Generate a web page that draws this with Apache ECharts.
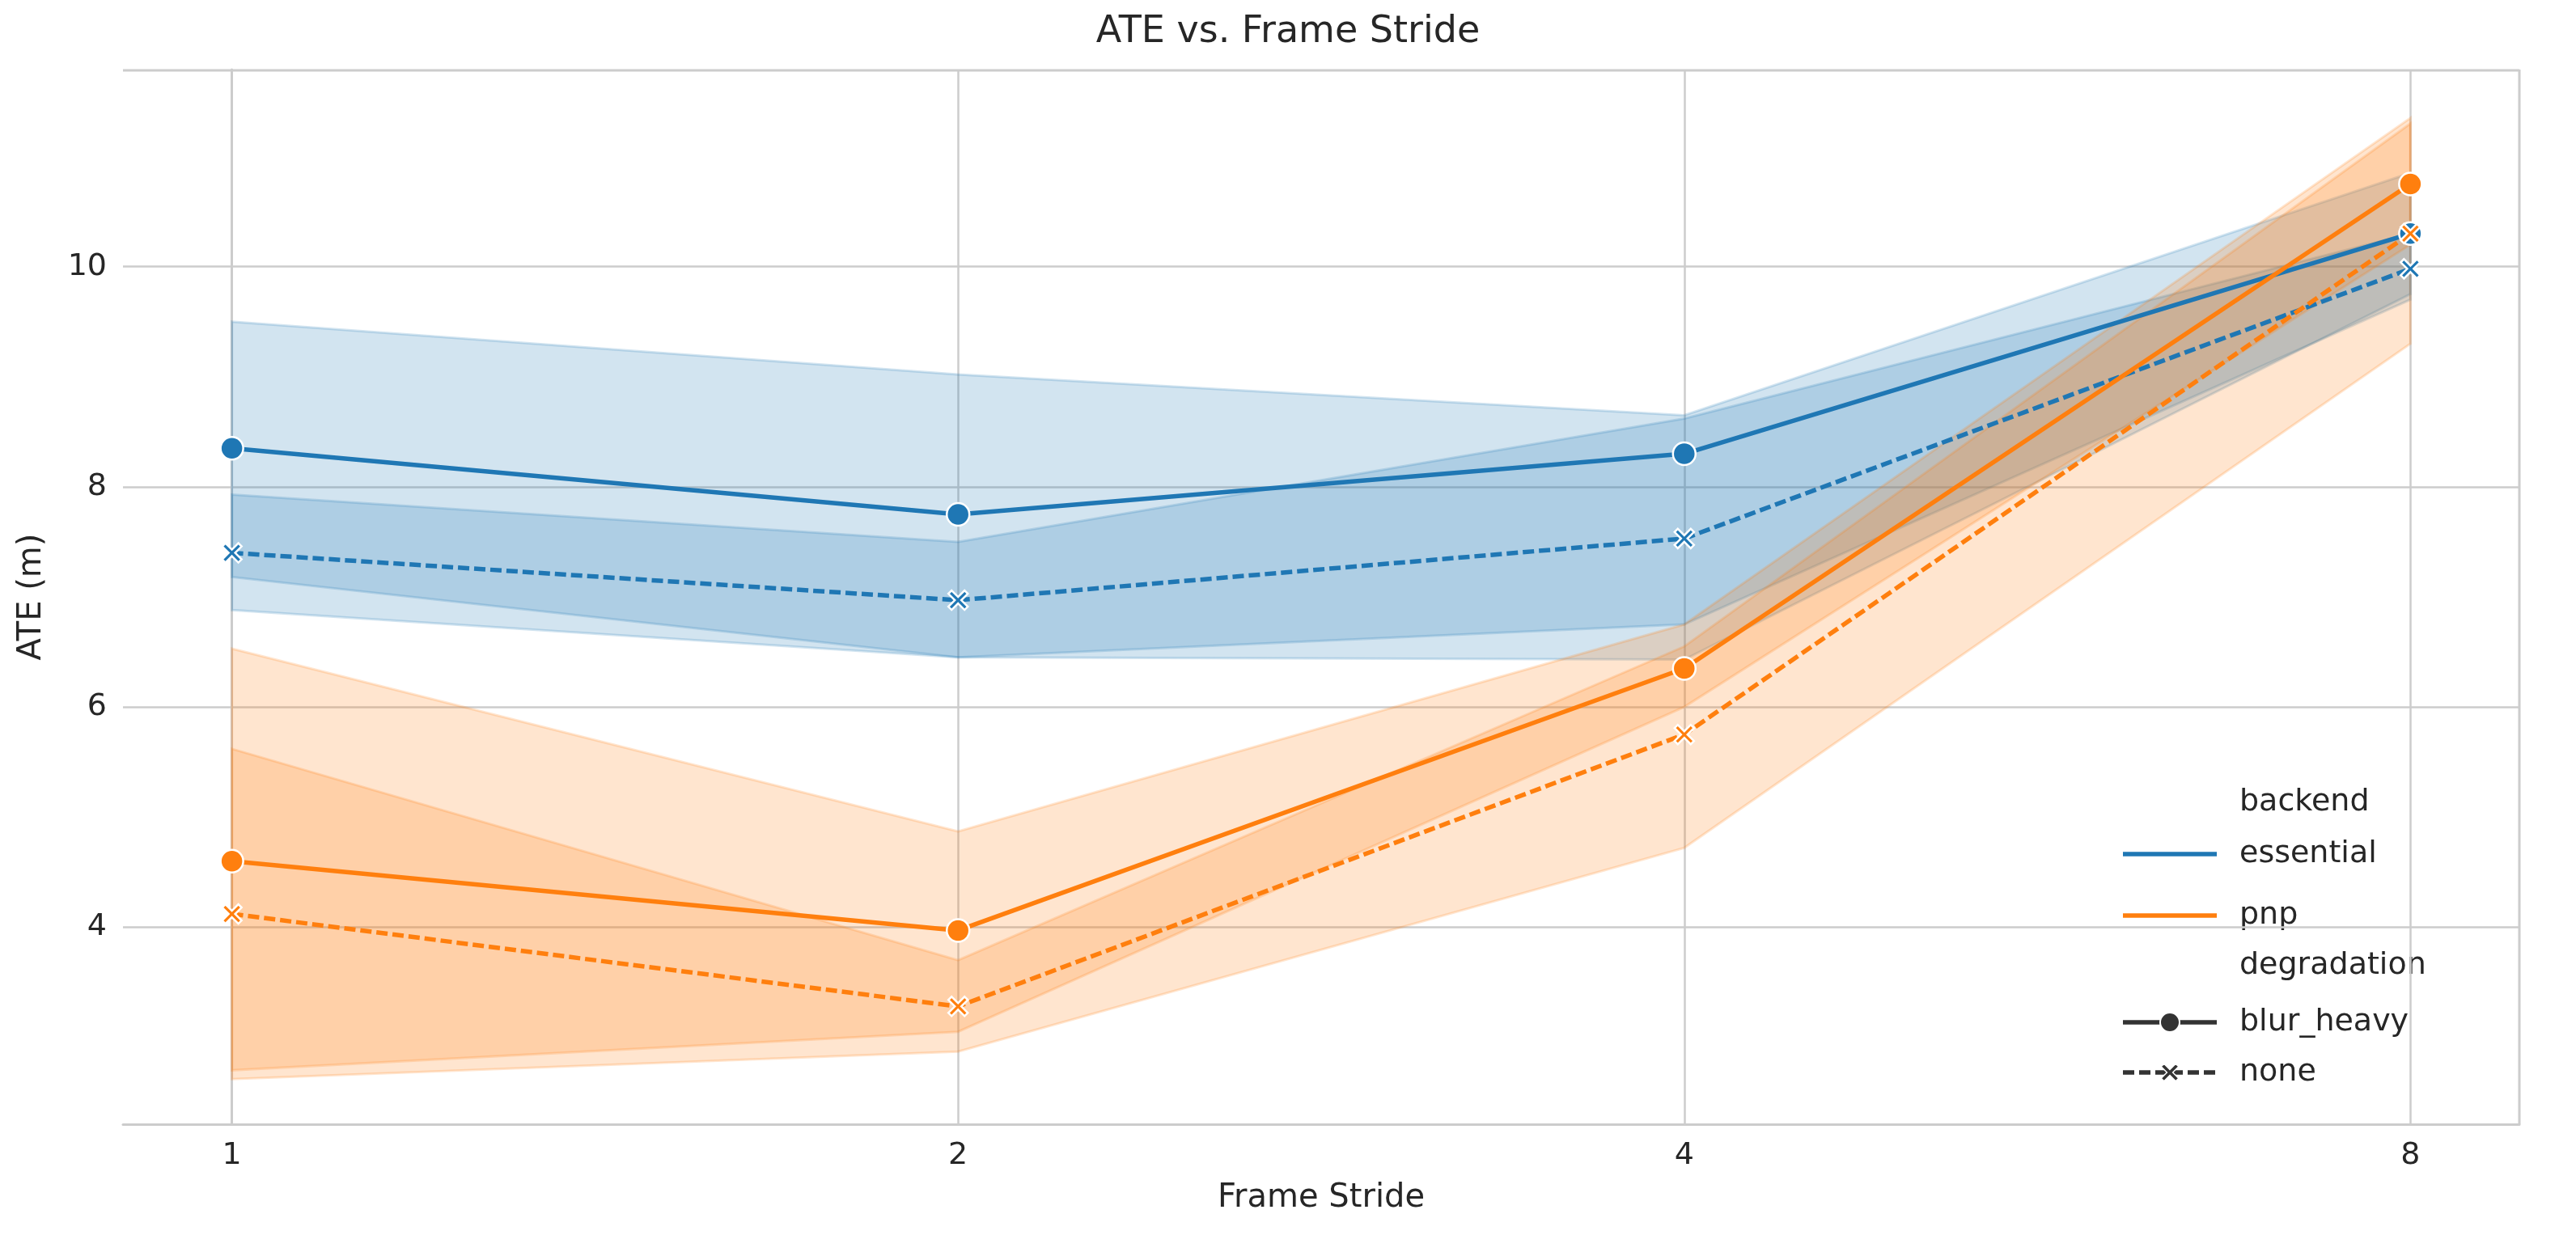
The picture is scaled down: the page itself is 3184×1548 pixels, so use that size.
<!DOCTYPE html>
<html>
<head>
<meta charset="utf-8">
<script src="https://cdn.jsdelivr.net/npm/echarts@6/dist/echarts.min.js"></script>
<style>html,body{margin:0;background:#fff}#main{width:3184px;height:1548px}</style>
</head>
<body>
<div id="main"></div>
<script>
// strides shown on a log2 scale, x = log2(stride)
var strides = [1, 2, 4, 8];
var ess_blur = [8.35, 7.75, 8.30, 10.30];
var ess_blur_lo = [6.88, 6.45, 6.43, 9.75];
var ess_blur_hi = [9.50, 9.02, 8.65, 10.85];
var ess_none = [7.40, 6.97, 7.53, 9.98];
var ess_none_lo = [7.18, 6.45, 6.75, 9.70];
var ess_none_hi = [7.93, 7.50, 8.62, 10.30];
var pnp_blur = [4.60, 3.97, 6.35, 10.75];
var pnp_blur_lo = [2.70, 3.05, 6.00, 10.20];
var pnp_blur_hi = [6.53, 4.87, 6.75, 11.35];
var pnp_none = [4.12, 3.28, 5.75, 10.30];
var pnp_none_lo = [2.62, 2.87, 4.72, 9.30];
var pnp_none_hi = [5.62, 3.70, 6.55, 11.30];
var yTicks = [4, 6, 8, 10];

var BLUE = '#1f77b4', ORANGE = '#ff7f0e';
var CROSS = 'path://M0,2L4,6L6,4L2,0L6,-4L4,-6L0,-2L-4,-6L-6,-4L-2,0L-6,4L-4,6Z';
var xs = strides.map(function (s) { return Math.log2(s); });

function band(lo, hi, color) {
  var data = xs.map(function (x, i) { return [x, lo[i], hi[i]]; });
  return {
    type: 'custom', silent: true, z: 1,
    data: data,
    renderItem: function (params, api) {
      if (params.dataIndex !== 0) return null;
      var top = [], bot = [];
      data.forEach(function (d) {
        top.push(api.coord([d[0], d[2]]));
        bot.unshift(api.coord([d[0], d[1]]));
      });
      return {
        type: 'polygon',
        shape: { points: top.concat(bot) },
        style: { fill: color, opacity: 0.2, stroke: color, lineWidth: 3 }
      };
    }
  };
}
function line(vals, color, dashed, symbol) {
  return {
    type: 'line', z: 3,
    data: xs.map(function (x, i) { return [x, vals[i]]; }),
    symbol: symbol, symbolSize: symbol === 'circle' ? 28 : 24,
    lineStyle: { color: color, width: 5.5, type: dashed ? [14, 6] : 'solid' },
    itemStyle: { color: color, borderColor: '#fff', borderWidth: 2.5 }
  };
}

function legText(x, y, s) {
  return { type: 'text', x: x, y: y,
    style: { text: s, fontFamily: 'DejaVu Sans', fill: '#262626', fontSize: 38, verticalAlign: 'middle' } };
}
function legLine(y, color, dashed, sym) {
  var g = [{ type: 'line', shape: { x1: 2624, y1: y, x2: 2740, y2: y },
    style: { stroke: color, lineWidth: 5.5, lineDash: dashed ? [14, 6] : null } }];
  if (sym === 'circle') g.push({ type: 'circle', shape: { cx: 2682, cy: y, r: 12 }, style: { fill: color, stroke: '#fff', lineWidth: 2 } });
  if (sym === 'cross') {
    var p = [[0,2],[4,6],[6,4],[2,0],[6,-4],[4,-6],[0,-2],[-4,-6],[-6,-4],[-2,0],[-6,4],[-4,6]];
    g.push({ type: 'polygon', shape: { points: p.map(function (q) { return [2682 + q[0] * 1.8, y + q[1] * 1.8]; }) },
      style: { fill: color, stroke: '#fff', lineWidth: 1.5 } });
  }
  return g;
}

var chart = echarts.init(document.getElementById('main'));
chart.setOption({
  backgroundColor: '#fff',
  animation: false,
  title: { text: 'ATE vs. Frame Stride', left: 'center', top: 12,
    textStyle: { fontFamily: 'DejaVu Sans', fontSize: 46, fontWeight: 'normal', color: '#262626' } },
  grid: { left: 152, right: 70, top: 86, bottom: 158 },
  xAxis: {
    type: 'value', min: -0.15, max: 3.15,
    name: 'Frame Stride', nameLocation: 'middle', nameGap: 72,
    nameTextStyle: { fontFamily: 'DejaVu Sans', fontSize: 40, color: '#262626' },
    axisLine: { show: true, onZero: false, lineStyle: { color: '#cccccc', width: 3 } },
    axisTick: { show: false, customValues: [0, 1, 2, 3] },
    axisLabel: { customValues: [0, 1, 2, 3], margin: 20, fontFamily: 'DejaVu Sans', fontSize: 38, color: '#262626',
      formatter: function (v) { return String(Math.round(Math.pow(2, v))); } },
    splitLine: { show: true, lineStyle: { color: '#cccccc', width: 2.5 } }
  },
  yAxis: {
    type: 'value', min: 2.21, max: 11.79,
    name: 'ATE (m)', nameLocation: 'middle', nameGap: 92, nameRotate: 90,
    nameTextStyle: { fontFamily: 'DejaVu Sans', fontSize: 40, color: '#262626' },
    axisLine: { show: true, lineStyle: { color: '#cccccc', width: 3 } },
    axisTick: { show: false, customValues: yTicks },
    axisLabel: { customValues: yTicks, margin: 20, fontFamily: 'DejaVu Sans', fontSize: 38, color: '#262626' },
    splitLine: { show: true, lineStyle: { color: '#cccccc', width: 2.5 } }
  },
  graphic: [
    { type: 'line', shape: { x1: 152, y1: 87, x2: 3114, y2: 87 }, style: { stroke: '#cccccc', lineWidth: 3 } },
    { type: 'line', shape: { x1: 3114, y1: 86, x2: 3114, y2: 1390 }, style: { stroke: '#cccccc', lineWidth: 3 } },
    legText(2768, 992, 'backend'),
    legText(2768, 1056, 'essential'),
    legText(2768, 1132, 'pnp'),
    legText(2768, 1194, 'degradation'),
    legText(2768, 1264, 'blur_heavy'),
    legText(2768, 1326, 'none')
  ].concat(legLine(1056, BLUE), legLine(1132, ORANGE),
    legLine(1264, '#333333', false, 'circle'), legLine(1326, '#333333', true, 'cross')),
  series: [
    band(ess_blur_lo, ess_blur_hi, BLUE),
    band(ess_none_lo, ess_none_hi, BLUE),
    band(pnp_blur_lo, pnp_blur_hi, ORANGE),
    band(pnp_none_lo, pnp_none_hi, ORANGE),
    line(ess_blur, BLUE, false, 'circle'),
    line(ess_none, BLUE, true, CROSS),
    line(pnp_blur, ORANGE, false, 'circle'),
    line(pnp_none, ORANGE, true, CROSS)
  ]
});
</script>
</body>
</html>
